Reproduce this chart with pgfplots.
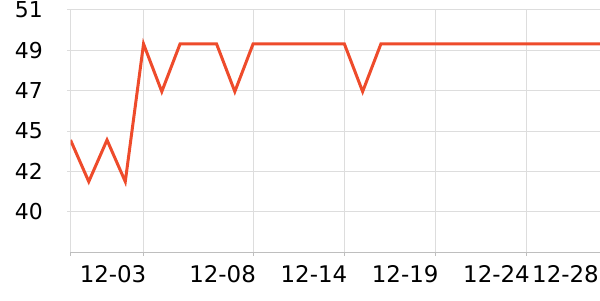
\documentclass[border=0pt]{standalone}
\usepackage{fontspec}
\setmainfont{DejaVu Sans}
\usepackage{pgfplots}
\pgfplotsset{compat=1.18}
\definecolor{lc}{RGB}{238,75,43}
\definecolor{gc}{RGB}{221,221,221}
\definecolor{ac}{RGB}{190,190,190}
\begin{document}
\begin{tikzpicture}[x=1bp,y=1bp]
\useasboundingbox (0,0) rectangle (600,300);
\begin{axis}[
 at={(70.5bp,48bp)}, anchor=south west,
 scale only axis, width=529.5bp, height=242bp,
 xmin=0, xmax=29, ymin=38, ymax=51.2,
 axis lines*=left,
 x axis line style={ac, line width=1bp},
 y axis line style={gc, line width=1bp},
 xtick={0,4,10,15,20,25,29}, xticklabels={,12-03,12-08,12-14,12-19,12-24,{12-28\hspace*{4bp}}},
 ytick={40.2,42.4,44.6,46.8,49,51.2}, yticklabels={40,42,45,47,49,51},
 grid=major, major grid style={gc, line width=1bp},
 x tick style={ac, line width=1bp}, y tick style={gc, line width=1bp},
 major tick length=3.5bp, tick align=outside,
 xticklabel style={font=\fontsize{23}{23}\selectfont, anchor=north east, inner sep=0pt, yshift=-10bp, xshift=3bp},
 yticklabel style={font=\fontsize{22}{22}\selectfont, anchor=east, inner sep=0pt, xshift=-24bp},
]
\addplot[lc, line width=3bp] table {
x y
0 44.11
1 41.84
2 44.11
3 41.84
4 49.35
5 46.75
6 49.35
7 49.35
8 49.35
9 46.75
10 49.35
11 49.35
12 49.35
13 49.35
14 49.35
15 49.35
16 46.75
17 49.35
18 49.35
19 49.35
20 49.35
21 49.35
22 49.35
23 49.35
24 49.35
25 49.35
26 49.35
27 49.35
28 49.35
29 49.35
};
\end{axis}
\end{tikzpicture}
\end{document}
